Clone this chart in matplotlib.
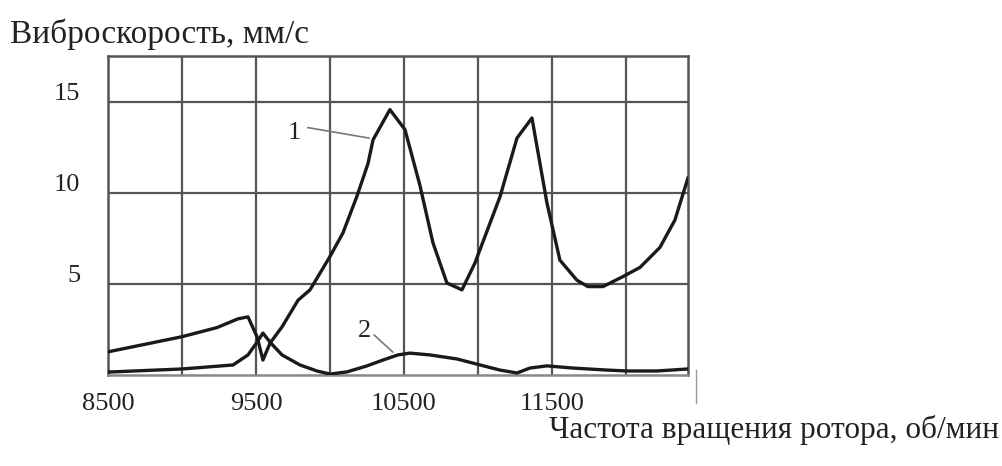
import matplotlib.pyplot as plt
import matplotlib.transforms as mtransforms
from matplotlib.lines import Line2D

plt.rcParams['font.family'] = ['Liberation Serif', 'DejaVu Serif']

# curve 1: vibration velocity, mm/s
rpm1 = [8500, 9000, 9236, 9378, 9446, 9507, 9547, 9595, 9676, 9784, 9865,
        10000, 10088, 10182, 10257, 10291, 10405, 10507, 10608, 10696, 10790,
        10892, 10980, 11149, 11264, 11365, 11466, 11554, 11669, 11743, 11845,
        11980, 12095, 12230, 12331, 12419]
vel1 = [1.27, 2.1, 2.6, 3.08, 3.19, 2.1, 0.82, 1.75, 2.64, 4.1, 4.67,
        6.5, 7.8, 9.8, 11.6, 12.9, 14.56, 13.46, 10.4, 7.25, 5.05,
        4.67, 6.15, 9.78, 13.0, 14.1, 9.45, 6.3, 5.2, 4.85, 4.85,
        5.4, 5.9, 7.0, 8.5, 10.8]

# curve 2
rpm2 = [8500, 9000, 9345, 9446, 9507, 9547, 9595, 9676, 9797, 9912, 10000,
        10115, 10250, 10358, 10459, 10540, 10676, 10858, 11014, 11149, 11264,
        11351, 11466, 11642, 11872, 12007, 12209, 12419]
vel2 = [0.16, 0.33, 0.55, 1.1, 1.8, 2.3, 1.8, 1.1, 0.55, 0.22, 0.05,
        0.17, 0.5, 0.82, 1.1, 1.2, 1.1, 0.88, 0.55, 0.27, 0.11,
        0.38, 0.5, 0.38, 0.27, 0.22, 0.22, 0.33]

xticks = [8500, 9500, 10500, 11500]
xminor = [9000, 10000, 11000, 12000]
yticks = [5, 10, 15]

grid_col = '#555555'

fig = plt.figure(figsize=(10.03, 4.66), dpi=100)
ax = fig.add_axes([0.1077, 0.1953, 0.5783, 0.6845])

ax.plot(rpm1, vel1, color='#1a1a1a', lw=2.4, zorder=3)
ax.plot(rpm2, vel2, color='#1a1a1a', lw=2.4, zorder=3)

ax.set_xlim(8500, 12420)
ax.set_ylim(0, 17.5)
ax.set_xticks(xticks)
ax.set_xticks(xminor, minor=True)
ax.set_yticks(yticks)
ax.tick_params(which='both', length=0, labelsize=19, colors='#222222')
ax.tick_params(axis='x', pad=13)
ax.tick_params(axis='y', pad=20)
ax.grid(True, which='both', color=grid_col, lw=1.6)
for s in ax.spines.values():
    s.set_color(grid_col)
    s.set_linewidth(1.8)
ax.spines['bottom'].set_color('#888888')

# y labels sit a little above their grid lines
off = mtransforms.ScaledTranslation(0, 10 / 100, fig.dpi_scale_trans)
for lab in ax.get_yticklabels():
    lab.set_transform(lab.get_transform() + off)

# curve labels with leader lines
ax.text(9757, 13.3, '1', fontsize=19, ha='center', va='center', color='#222222')
ax.annotate('', xy=(10284, 12.97), xytext=(9831, 13.6),
            arrowprops=dict(arrowstyle='-', color='#777777', lw=1.2))
ax.text(10230, 2.42, '2', fontsize=19, ha='center', va='center', color='#222222')
ax.annotate('', xy=(10439, 1.15), xytext=(10284, 2.3),
            arrowprops=dict(arrowstyle='-', color='#777777', lw=1.2))

fig.text(0.01, 1 - 43 / 466, 'Виброскорость, мм/с', fontsize=24,
         ha='left', va='baseline', color='#222222')
fig.text(999 / 1003, 1 - 438 / 466, 'Частота вращения ротора, об/мин',
         fontsize=22.5, ha='right', va='baseline', color='#222222')

fig.add_artist(Line2D([696 / 1003, 696 / 1003], [1 - 370 / 466, 1 - 403 / 466],
                      color='#999999', lw=1))

fig.savefig('out.png', dpi=100)
